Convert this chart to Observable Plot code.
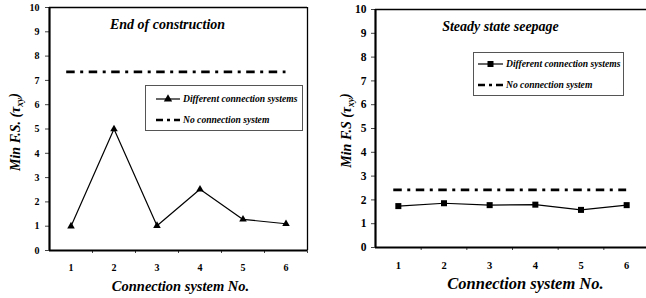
<!DOCTYPE html>
<html>
<head>
<meta charset="utf-8">
<script src="https://cdn.jsdelivr.net/npm/d3@7"></script>
<script src="https://cdn.jsdelivr.net/npm/@observablehq/plot@0.6"></script>
<style>
  html, body { margin: 0; padding: 0; background: white; }
  #wrap { position: relative; width: 646px; height: 298px; overflow: hidden; display: flex; flex-wrap: nowrap; }
  #wrap > svg { flex: none; }
  #wrap text { font-family: "Liberation Serif", "Times New Roman", serif; }
  .legend { position: absolute; }
</style>
</head>
<body>
<div id="wrap"></div>
<script>
// ---- data ----
const connections = [1, 2, 3, 4, 5, 6];
const yTicks = [0, 1, 2, 3, 4, 5, 6, 7, 8, 9, 10];
const endOfConstructionDifferent = [1.0, 5.0, 1.02, 2.52, 1.28, 1.1];
const endOfConstructionNone = 7.35;
const steadySeepageDifferent = [1.74, 1.86, 1.78, 1.8, 1.58, 1.78];
const steadySeepageNone = 2.42;
const seriesNames = ["Different connection systems", "No connection system"];
const titles = ["End of construction", "Steady state seepage"];
const yLabels = ["Min F.S. (τxy)", "Min F.S (τxy)"];
const xLabel = "Connection system No.";

const serif = "Liberation Serif";
const dash = "8.5,5.5,3,5.5";
const boundaries = connections.map(c => c + 0.5);

function panel(o) {
  const rows = connections.map((c, i) => ({c, v: o.values[i]}));
  const svg = Plot.plot({
    width: o.width, height: 298,
    marginLeft: o.ml, marginRight: o.mr, marginTop: o.mt, marginBottom: o.mb,
    style: `font-family: "Liberation Serif", serif; font-weight: bold; font-size: ${o.tickFont}px; color: black; background: white; overflow: visible;`,
    x: {domain: [connections[0] - 0.5, connections[connections.length - 1] + 0.5], label: null},
    y: {domain: [yTicks[0], yTicks[yTicks.length - 1]], label: null},
    marks: [
      Plot.ruleY([yTicks[yTicks.length - 1]], {stroke: "black", strokeWidth: 1.3}),
      o.rightBorder ? Plot.ruleX([connections[connections.length - 1] + 0.5], {stroke: "black", strokeWidth: 1.3}) : null,
      Plot.axisY(yTicks, {tickSize: 4, tickPadding: o.yPad, fontSize: o.yFont, fontFamily: serif, fontWeight: "bold", stroke: "#444", label: null}),
      Plot.axisX(boundaries, {tickSize: 3, tickFormat: () => "", stroke: "#444", label: null}),
      Plot.axisX(connections, {tickSize: 0, tickPadding: o.xPad, fontSize: o.xFont, fontFamily: serif, fontWeight: "bold", label: null}),
      Plot.ruleX([connections[0] - 0.5], {stroke: "black", strokeWidth: 2.2}),
      Plot.ruleY([yTicks[0]], {stroke: "black", strokeWidth: 2.2}),
      Plot.ruleY([o.none], {x1: connections[0] - 0.1, x2: connections[connections.length - 1], stroke: "black", strokeWidth: 2.8, strokeDasharray: dash}),
      Plot.line(rows, {x: "c", y: "v", stroke: "black", strokeWidth: 1.2}),
      Plot.dot(rows, {x: "c", y: "v", symbol: o.symbol, r: o.r, fill: "black", stroke: "none"}),
      Plot.text([o.title], {frameAnchor: "top", lineAnchor: "middle", dx: o.titleDx, dy: o.titleDy, fontSize: 14, fontFamily: serif, fontStyle: "italic", fontWeight: "bold"}),
      Plot.text([xLabel], {frameAnchor: "bottom", lineAnchor: "middle", dx: o.xlDx, dy: 36, fontSize: o.xlSize, fontFamily: serif, fontStyle: "italic", fontWeight: "bold"}),
      Plot.text([o.ylabel], {frameAnchor: "left", textAnchor: "middle", lineAnchor: "middle", rotate: -90, dx: o.ylDx, dy: o.ylDy, fontSize: 14, fontFamily: serif, fontStyle: "italic", fontWeight: "bold"})
    ]
  });
  // subscript xy in τxy
  d3.select(svg).selectAll("text").each(function() {
    const t = this.textContent;
    if (t.includes("τxy")) {
      const [pre, post] = t.split("τxy");
      const sel = d3.select(this);
      sel.text(null);
      sel.append("tspan").text(pre + "τ");
      sel.append("tspan").attr("font-size", "9.5px").attr("dy", "0.3em").text("xy");
      sel.append("tspan").attr("dy", "-0.3em").text(post);
    }
  });
  return svg;
}

function legend(o) {
  const w = o.w, h = o.h;
  const svg = d3.create("svg").attr("class", "legend").attr("width", w).attr("height", h)
    .style("left", o.left + "px").style("top", o.top + "px");
  svg.append("rect").attr("x", 0.5).attr("y", 0.5).attr("width", w - 1).attr("height", h - 1)
    .attr("fill", "white").attr("stroke", "#555").attr("stroke-width", 1);
  const sx0 = o.sx0, sx1 = o.sx1;
  svg.append("line").attr("x1", sx0).attr("x2", sx1).attr("y1", o.r1).attr("y2", o.r1).attr("stroke", "black").attr("stroke-width", 1.2);
  svg.append("path").attr("transform", `translate(${(sx0 + sx1) / 2},${o.r1})`)
    .attr("d", d3.symbol(o.symbol, o.size)()).attr("fill", "black");
  svg.append("line").attr("x1", sx0).attr("x2", sx1).attr("y1", o.r2).attr("y2", o.r2).attr("stroke", "black").attr("stroke-width", 2.5).attr("stroke-dasharray", "7,4,3,4");
  [[seriesNames[0], o.r1], [seriesNames[1], o.r2]].forEach(([s, y]) => {
    svg.append("text").attr("x", sx1 + 3).attr("y", y).attr("dy", "0.35em")
      .attr("font-family", serif).attr("font-weight", "bold").attr("font-style", "italic").attr("font-size", 9.6).text(s);
  });
  return svg.node();
}

const wrap = document.getElementById("wrap");
wrap.append(panel({
  width: 323, ml: 49, mr: 16, mt: 7, mb: 48,
  values: endOfConstructionDifferent, none: endOfConstructionNone,
  symbol: "triangle", r: 2.8, rightBorder: true,
  tickFont: 10, yFont: 10, xFont: 10, yPad: 6, xPad: 13,
  title: titles[0], titleDx: -11, titleDy: 17,
  xlDx: 2, xlSize: 14.5,
  ylabel: yLabels[0], ylDx: -34, ylDy: 3
}));
wrap.append(panel({
  width: 326, ml: 52, mr: 0, mt: 9, mb: 51,
  values: steadySeepageDifferent, none: steadySeepageNone,
  symbol: "square", r: 3.4, rightBorder: true,
  tickFont: 11, yFont: 11.5, xFont: 10.5, yPad: 5, xPad: 14,
  title: titles[1], titleDx: -12, titleDy: 17,
  xlDx: 13, xlSize: 16.5,
  ylabel: yLabels[1], ylDx: -29, ylDy: 2
}));
wrap.append(legend({left: 145, top: 85, w: 158, h: 46, sx0: 11, sx1: 35, r1: 14, r2: 35, symbol: d3.symbolTriangle, size: 30}));
wrap.append(legend({left: 473, top: 52, w: 151, h: 44, sx0: 5, sx1: 30, r1: 12, r2: 33, symbol: d3.symbolSquare, size: 36}));
</script>
</body>
</html>
